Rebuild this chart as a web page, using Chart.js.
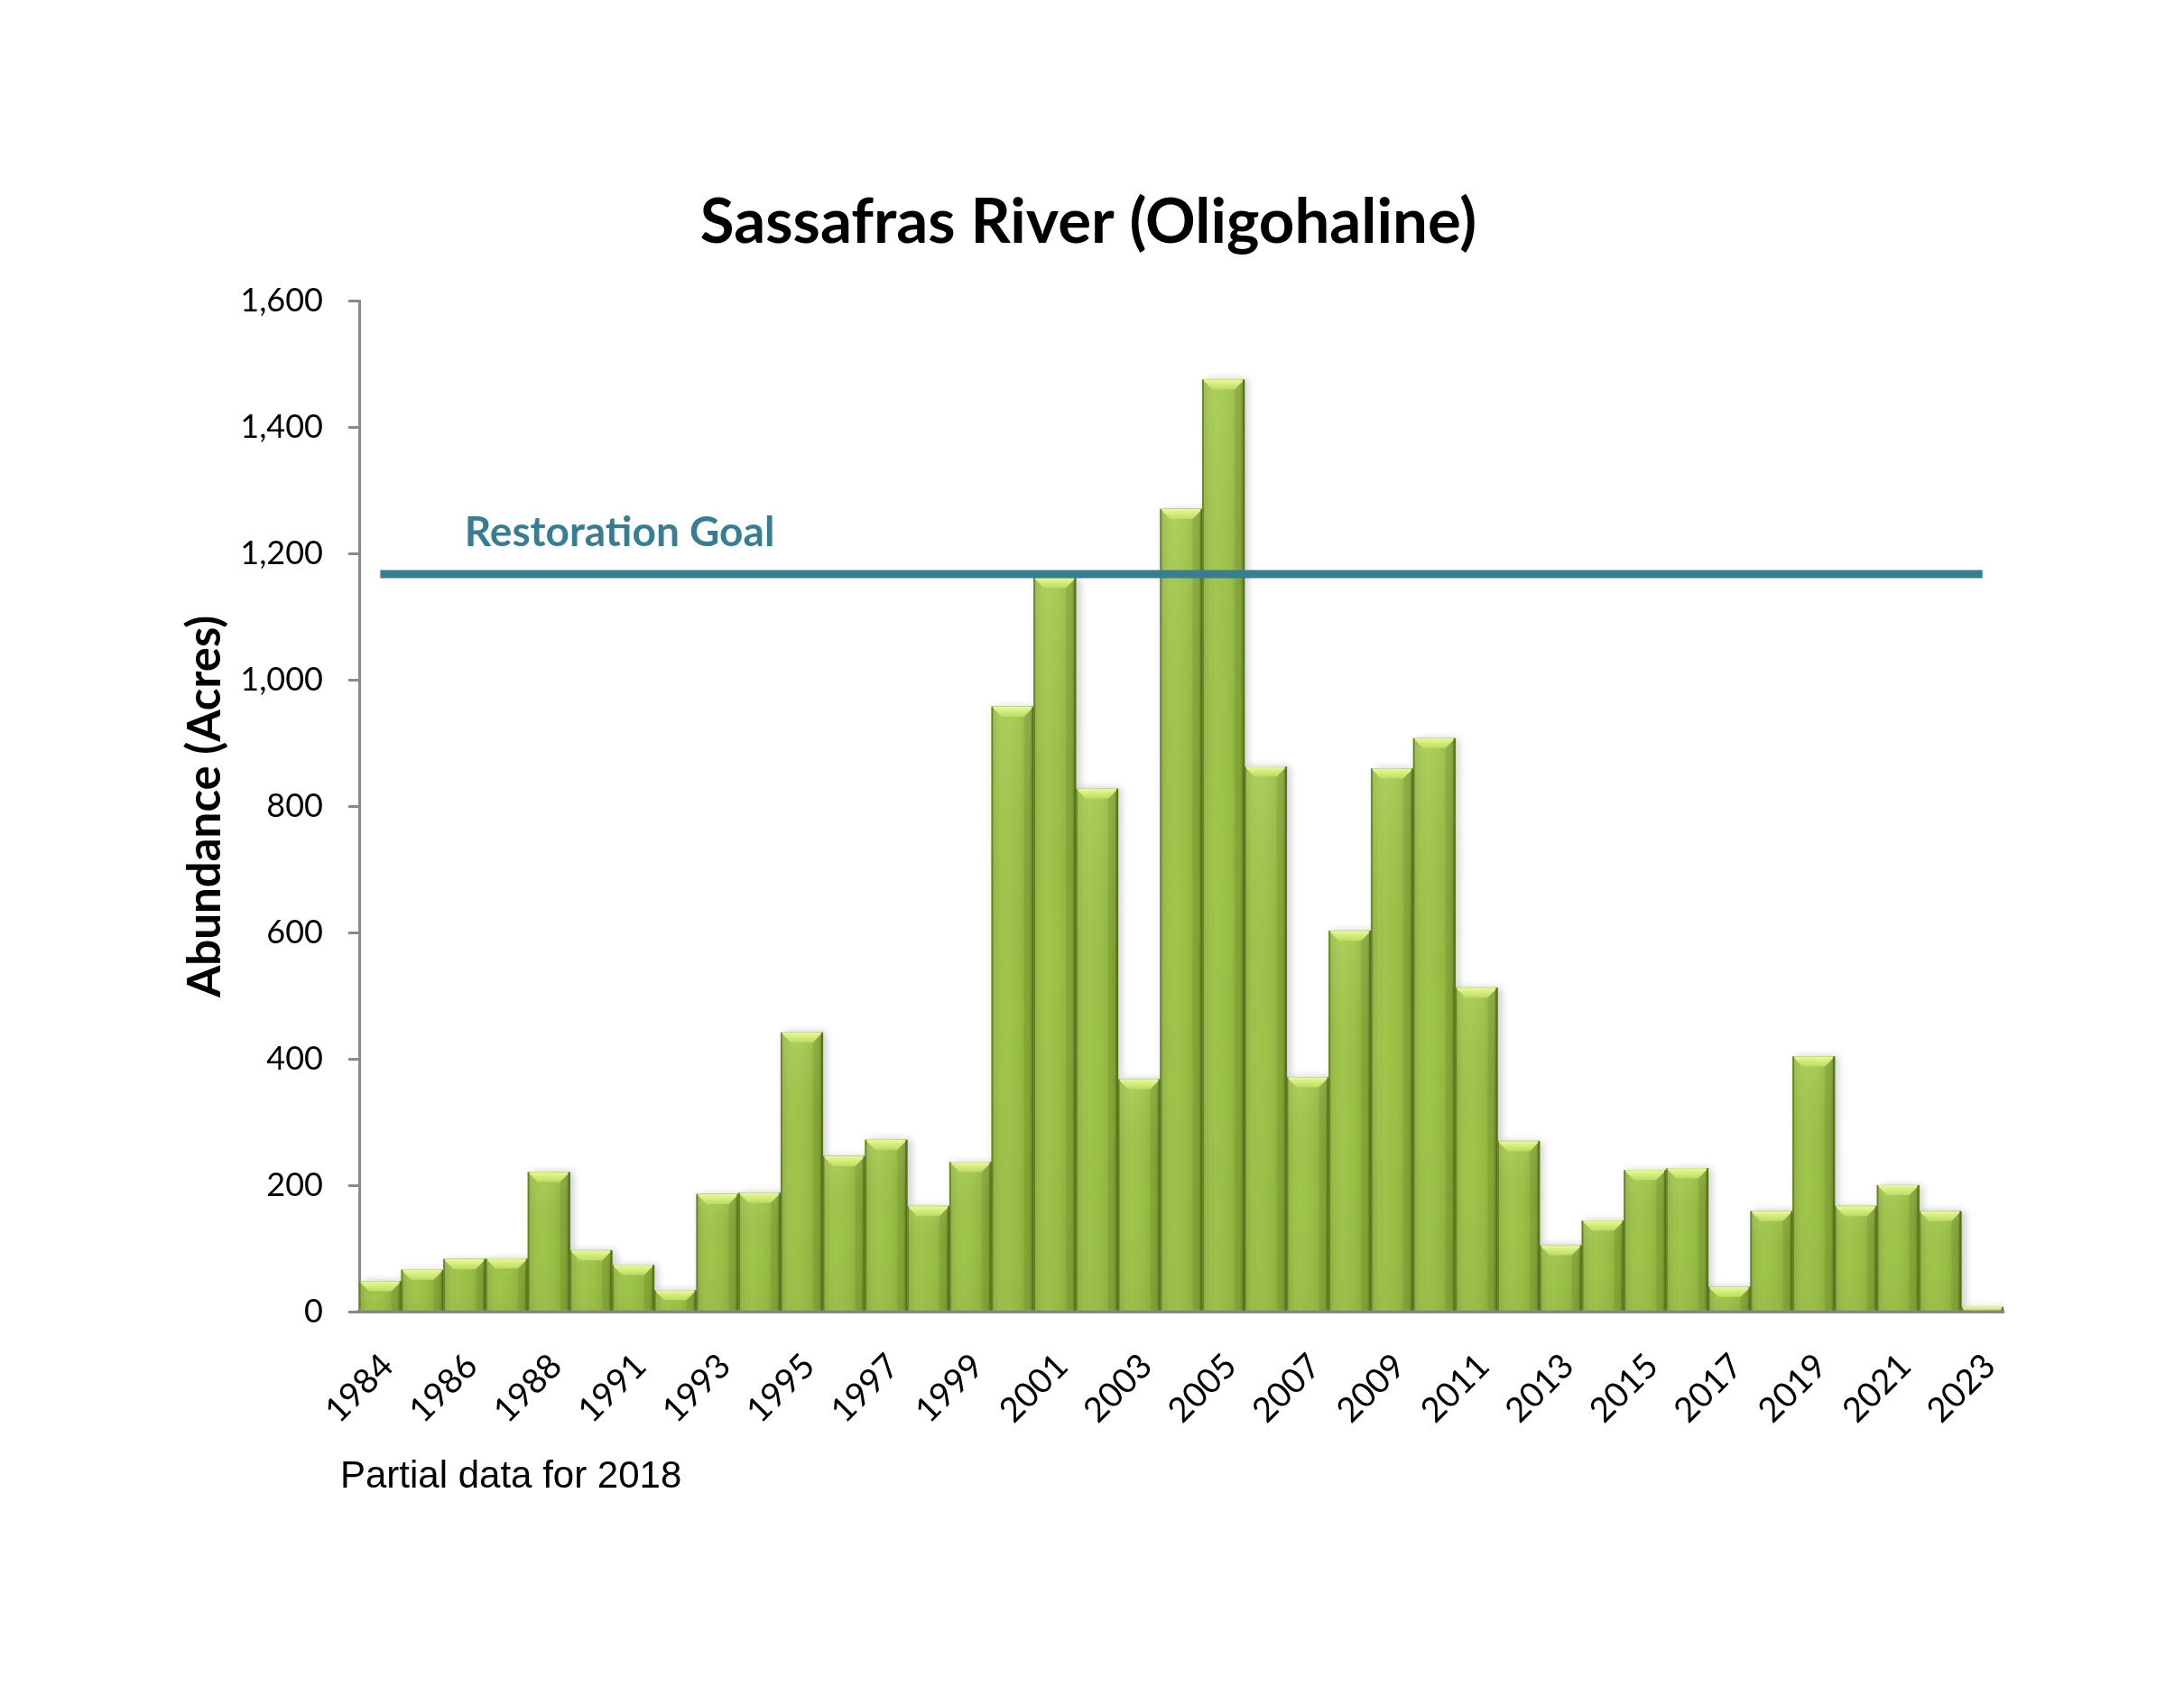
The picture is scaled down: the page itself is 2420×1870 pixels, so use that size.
<!DOCTYPE html>
<html>
<head>
<meta charset="utf-8">
<script src="https://cdn.jsdelivr.net/npm/chart.js@4.4.1/dist/chart.umd.min.js"></script>
<style>
  html, body { margin: 0; padding: 0; background: #ffffff; }
  #wrap { width: 2420px; height: 1870px; position: relative; }
</style>
</head>
<body>
<div id="wrap"><canvas id="c" width="2420" height="1870"></canvas></div>
<script>
// ---- data ----
const years = ['1984','1985','1986','1987','1988','1989','1991','1992','1993','1994',
               '1995','1996','1997','1998','1999','2000','2001','2002','2003','2004',
               '2005','2006','2007','2008','2009','2010','2011','2012','2013','2014',
               '2015','2016','2017','2018','2019','2020','2021','2022','2023'];
const abundance = [48, 66, 83, 84, 221, 97, 74, 34, 186, 188,
                   442, 246, 272, 167, 237, 958, 1162, 828, 368, 1271,
                   1476, 863, 371, 603, 860, 908, 513, 270, 105, 144,
                   224, 227, 39, 159, 404, 167, 200, 159, 7];
const restorationGoal = 1168;
const yTicks = [0, 200, 400, 600, 800, 1000, 1200, 1400, 1600];
const chartTitle = 'Sassafras River (Oligohaline)';
const yAxisTitle = 'Abundance (Acres)';
const goalLabel = 'Restoration Goal';
const footnote = 'Partial data for 2018';

const FONT = 'Lato, "Open Sans", sans-serif';
const AXIS_GREY = '#898989';
const GOAL_COLOR = '#387e93';

// bevelled bar styling drawn on top of each bar element
const bevelPlugin = {
  id: 'bevel',
  beforeDatasetDraw(chart, args) {
    if (args.meta.type !== 'bar') return;
    const ctx = chart.ctx;
    ctx.save();
    ctx.shadowColor = 'rgba(0,0,0,0.20)';
    ctx.shadowBlur = 9;
    ctx.shadowOffsetX = 4;
    ctx.shadowOffsetY = 0;
  },
  afterDatasetDraw(chart, args) {
    if (args.meta.type !== 'bar') return;
    const ctx = chart.ctx;
    ctx.restore();
    ctx.save();
    args.meta.data.forEach(bar => {
      const p = bar.getProps(['x', 'y', 'width', 'base'], true);
      const l = p.x - p.width / 2, r = p.x + p.width / 2;
      const t = Math.min(p.y, p.base), b = Math.max(p.y, p.base);
      const h = b - t, w = r - l;
      if (h <= 0) return;
      // body, horizontal shading
      const g = ctx.createLinearGradient(l, 0, r, 0);
      g.addColorStop(0.00, '#6a8a27');
      g.addColorStop(0.05, '#8fb33d');
      g.addColorStop(0.30, '#a4ca4d');
      g.addColorStop(0.60, '#9ec448');
      g.addColorStop(0.90, '#8db13b');
      g.addColorStop(0.97, '#728f2b');
      g.addColorStop(1.00, '#5d7a20');
      ctx.fillStyle = g;
      ctx.fillRect(l, t, w, h);
      // vertical shading: slightly lighter near top, darker toward bottom
      const gv = ctx.createLinearGradient(0, t, 0, b);
      gv.addColorStop(0, 'rgba(255,255,230,0.10)');
      gv.addColorStop(0.5, 'rgba(0,0,0,0.02)');
      gv.addColorStop(1, 'rgba(0,0,0,0.05)');
      ctx.fillStyle = gv;
      ctx.fillRect(l, t, w, h);
      // top bevel
      const d = Math.min(11, h, w / 3);
      const gb = ctx.createLinearGradient(0, t, 0, t + d);
      gb.addColorStop(0, '#e8f99a');
      gb.addColorStop(1, '#bddd5c');
      ctx.fillStyle = gb;
      ctx.beginPath();
      ctx.moveTo(l, t);
      ctx.lineTo(r, t);
      ctx.lineTo(r - d, t + d);
      ctx.lineTo(l + d, t + d);
      ctx.closePath();
      ctx.fill();
      // darker right bevel facet
      ctx.fillStyle = 'rgba(70,95,20,0.14)';
      ctx.beginPath();
      ctx.moveTo(r, t);
      ctx.lineTo(r - d, t + d);
      ctx.lineTo(r - d, b);
      ctx.lineTo(r, b);
      ctx.closePath();
      ctx.fill();
      // light left bevel facet
      ctx.fillStyle = 'rgba(230,250,150,0.10)';
      ctx.beginPath();
      ctx.moveTo(l, t);
      ctx.lineTo(l + d, t + d);
      ctx.lineTo(l + d, b);
      ctx.lineTo(l, b);
      ctx.closePath();
      ctx.fill();
      // edges
      ctx.fillStyle = '#64822a';
      ctx.fillRect(l, t, 1.5, h);
      ctx.fillStyle = '#56731d';
      ctx.fillRect(r - 2, t, 2, h);
    });
    ctx.restore();
  }
};

// annotation texts (goal label, footnote)
const textPlugin = {
  id: 'texts',
  afterDraw(chart) {
    const ctx = chart.ctx;
    const xs = chart.scales.x, ys = chart.scales.y;
    ctx.save();
    ctx.fillStyle = GOAL_COLOR;
    ctx.font = 'bold 46px ' + FONT;
    ctx.textAlign = 'left';
    ctx.textBaseline = 'alphabetic';
    ctx.fillText(goalLabel, xs.getPixelForValue(2), ys.getPixelForValue(restorationGoal) - 31);
    ctx.fillStyle = '#000000';
    ctx.font = '42px "Liberation Sans", Arial, sans-serif';
    ctx.fillText(footnote, 377, 1648);
    ctx.restore();
  }
};

Chart.register(bevelPlugin, textPlugin);

const ctx = document.getElementById('c').getContext('2d');
new Chart(ctx, {
  type: 'bar',
  data: {
    labels: years,
    datasets: [
      {
        type: 'line',
        label: goalLabel,
        data: [{ x: years[0], y: restorationGoal }, { x: years[years.length - 1], y: restorationGoal }],
        borderColor: GOAL_COLOR,
        borderWidth: 9,
        pointRadius: 0,
        fill: false,
        order: 0
      },
      {
        type: 'bar',
        label: 'Abundance',
        data: abundance,
        backgroundColor: '#98bf44',
        borderWidth: 0,
        barPercentage: 1.0,
        categoryPercentage: 1.0,
        order: 1
      }
    ]
  },
  options: {
    responsive: false,
    animation: false,
    layout: { padding: { top: 0, left: 192, right: 200, bottom: 0 } },
    plugins: {
      legend: { display: false },
      tooltip: { enabled: false },
      title: {
        display: true,
        text: chartTitle,
        color: '#000000',
        font: { family: FONT, size: 69, weight: 'bold' },
        padding: { top: 205, bottom: 46 }
      }
    },
    scales: {
      x: {
        type: 'category',
        offset: true,
        grid: { display: true, drawOnChartArea: false, drawTicks: false },
        border: { display: true, color: AXIS_GREY, width: 4 },
        ticks: {
          autoSkip: false,
          maxRotation: 45,
          minRotation: 45,
          padding: 38,
          labelOffset: 8,
          color: '#000000',
          font: { family: FONT, size: 38 },
          callback: function (val, idx) { return idx % 2 === 0 ? this.getLabelForValue(val) : ''; }
        },
        afterFit(scale) { scale.height = 417; }
      },
      y: {
        min: 0,
        max: 1600,
        afterBuildTicks(scale) { scale.ticks = yTicks.map(v => ({ value: v })); },
        grid: { display: true, drawOnChartArea: false, drawTicks: true, tickLength: 12, color: AXIS_GREY, lineWidth: 3 },
        border: { display: true, color: AXIS_GREY, width: 3 },
        ticks: {
          padding: 28,
          color: '#000000',
          font: { family: FONT, size: 36 },
          callback: (v) => Number(v).toLocaleString('en-US')
        },
        title: {
          display: true,
          text: yAxisTitle,
          color: '#000000',
          font: { family: FONT, size: 51, weight: 'bold' },
          padding: { top: 5 }
        },
        afterFit(scale) { scale.width = 206; }
      }
    }
  }
});
</script>
</body>
</html>
